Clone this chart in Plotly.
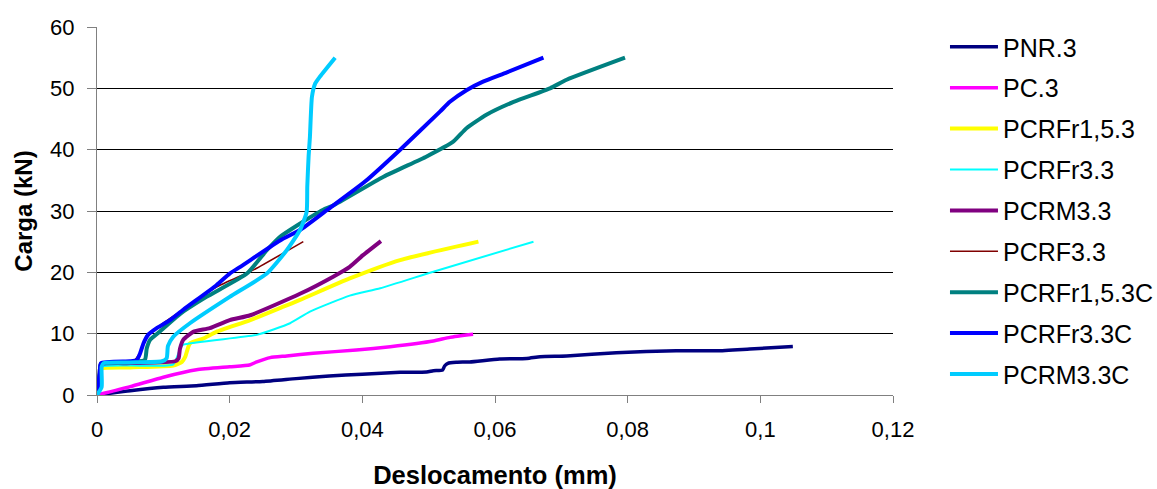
import plotly.graph_objects as go

# Load-displacement curves (displacement in mm, load in kN)
pnr3_x = [0, 0.005, 0.01, 0.015, 0.02, 0.025, 0.030, 0.035, 0.040, 0.0457, 0.0497, 0.0507, 0.0521,
          0.0524, 0.0529, 0.0542, 0.0562, 0.0607, 0.0648, 0.0668, 0.0708, 0.0783, 0.0873, 0.0934, 0.0984, 0.1049]
pnr3_y = [0, 0.7, 1.25, 1.5, 2.0, 2.2, 2.67, 3.1, 3.4, 3.7, 3.75, 3.97, 4.08,
          4.73, 5.17, 5.33, 5.4, 5.87, 5.95, 6.25, 6.36, 6.9, 7.23, 7.2, 7.5, 7.9]

pc3_x = [0, 0.005, 0.01, 0.015, 0.02, 0.023, 0.0241, 0.0261, 0.0286, 0.0326, 0.0391, 0.0442, 0.0507, 0.0532, 0.0567]
pc3_y = [0, 1.36, 2.9, 4.1, 4.6, 4.9, 5.4, 6.1, 6.36, 6.8, 7.34, 7.88, 8.8, 9.4, 9.9]

pcrfr15_x = [0, 0.0004, 0.0006, 0.005, 0.0115, 0.0128, 0.0133, 0.014, 0.016, 0.018, 0.0231, 0.0281, 0.0306, 0.0381, 0.0457, 0.0575]
pcrfr15_y = [0, 3.0, 4.3, 4.5, 4.8, 5.4, 6.2, 8.4, 9.2, 10.3, 12.2, 14.4, 15.5, 19.0, 22.0, 25.0]

pcrfr3_x = [0, 0.0004, 0.0006, 0.005, 0.0115, 0.0125, 0.013, 0.0241, 0.0291, 0.0321, 0.0381, 0.0427, 0.0507, 0.0658]
pcrfr3_y = [0, 3.2, 4.6, 4.8, 5.0, 7.5, 8.2, 9.8, 11.7, 13.6, 16.2, 17.4, 20.1, 25.0]

pcrm3_x = [0, 0.0004, 0.0006, 0.005, 0.0118, 0.0123, 0.0125, 0.013, 0.0145, 0.017, 0.02, 0.0231, 0.0306, 0.0356, 0.0381, 0.0401, 0.0428]
pcrm3_y = [0, 3.5, 5.0, 5.2, 5.5, 6.0, 7.5, 9.0, 10.3, 10.9, 12.2, 13.0, 16.5, 19.3, 20.9, 22.8, 25.1]

pcrf3_x = [0, 0.0004, 0.0006, 0.0055, 0.0068, 0.0075, 0.009, 0.0125, 0.018, 0.0236, 0.0311]
pcrf3_y = [0, 3.5, 5.2, 5.5, 7.5, 9.8, 11.0, 13.6, 17.6, 20.4, 25.0]

pcrfr15c_x = [0, 0.0004, 0.0006, 0.004, 0.0072, 0.0075, 0.008, 0.0092, 0.0125, 0.0165, 0.0226, 0.0256, 0.0276,
              0.0301, 0.0341, 0.0356, 0.0432, 0.0497, 0.0537, 0.0557, 0.0587, 0.0628, 0.0683, 0.0708, 0.0796]
pcrfr15c_y = [0, 3.5, 5.1, 5.3, 5.7, 7.6, 9.0, 10.1, 13.2, 16.0, 19.8, 23.6, 25.8,
              27.6, 30.2, 30.9, 35.6, 38.9, 41.3, 43.5, 45.7, 47.8, 50.0, 51.4, 55.0]

pcrfr3c_x = [0, 0.0004, 0.0006, 0.005, 0.006, 0.0065, 0.007, 0.0077, 0.009, 0.011, 0.013, 0.018, 0.020, 0.0216,
             0.0276, 0.0306, 0.0346, 0.0404, 0.0457, 0.0517, 0.0532, 0.0557, 0.0582, 0.0618, 0.0673]
pcrfr3c_y = [0, 3.5, 5.2, 5.5, 5.7, 6.8, 8.4, 9.8, 10.9, 12.2, 13.9, 17.9, 19.8, 20.9,
             25.2, 26.9, 30.1, 34.8, 40.0, 46.2, 47.8, 49.7, 51.1, 52.6, 55.0]

pcrm3c_x = [0, 0.0007, 0.0007, 0.001, 0.005, 0.0098, 0.0105, 0.0107, 0.0115, 0.014, 0.02, 0.0256, 0.0286,
            0.0306, 0.0316, 0.0317, 0.0319, 0.0321, 0.0324, 0.0329, 0.0336, 0.0359]
pcrm3c_y = [0, 1.3, 4.6, 5.2, 5.3, 5.5, 6.0, 8.0, 9.5, 11.7, 16.0, 19.8, 23.6,
            26.9, 29.8, 34.0, 38.9, 42.1, 48.6, 50.8, 51.9, 55.0]

series_names = ["PNR.3", "PC.3", "PCRFr1,5.3", "PCRFr3.3", "PCRM3.3", "PCRF3.3",
                "PCRFr1,5.3C", "PCRFr3.3C", "PCRM3.3C"]
series_x = [pnr3_x, pc3_x, pcrfr15_x, pcrfr3_x, pcrm3_x, pcrf3_x, pcrfr15c_x, pcrfr3c_x, pcrm3c_x]
series_y = [pnr3_y, pc3_y, pcrfr15_y, pcrfr3_y, pcrm3_y, pcrf3_y, pcrfr15c_y, pcrfr3c_y, pcrm3c_y]
colors = ["#000080", "#FF00FF", "#FFFF00", "#00FFFF", "#800080", "#800000", "#008080", "#0000FF", "#00CCFF"]
widths = [3.5, 3.5, 4, 2, 4, 1.6, 4, 4, 4]

x_ticks = [0, 0.02, 0.04, 0.06, 0.08, 0.1, 0.12]
x_ticktext = ["0", "0,02", "0,04", "0,06", "0,08", "0,1", "0,12"]
y_ticks = [0, 10, 20, 30, 40, 50, 60]

fig = go.Figure()
for i, (name, xs, ys, c, w) in enumerate(zip(series_names, series_x, series_y, colors, widths)):
    fig.add_trace(go.Scatter(
        x=xs, y=ys, mode="lines", name=name, legendgroup=f"g{i}",
        line=dict(color=c, width=w, shape="spline", smoothing=0.5),
    ))

font_family = "Liberation Sans, Arial, sans-serif"
fig.update_layout(
    width=1157, height=489,
    margin=dict(l=97, r=264, t=27, b=94, autoexpand=False),
    paper_bgcolor="white", plot_bgcolor="white",
    font=dict(family=font_family, color="black"),
    showlegend=True,
    legend=dict(
        x=1.0653, xanchor="left", y=1.008, yanchor="top",
        font=dict(size=25, family=font_family, color="black"),
        itemwidth=48, tracegroupgap=5.4,
        bgcolor="rgba(0,0,0,0)",
    ),
    xaxis=dict(
        range=[0, 0.12], tickvals=x_ticks, ticktext=x_ticktext,
        showgrid=False, zeroline=False,
        showline=True, linecolor="#808080", linewidth=1,
        ticks="outside", ticklen=7, tickcolor="#808080",
        tickfont=dict(size=22), ticklabelstandoff=8,
        title=dict(text="<b>Deslocamento (mm)</b>", font=dict(size=25.5), standoff=27),
    ),
    yaxis=dict(
        range=[0, 60], tickvals=y_ticks,
        showgrid=True, gridcolor="black", gridwidth=1, zeroline=False,
        showline=True, linecolor="#808080", linewidth=1,
        ticks="outside", ticklen=9, tickcolor="#808080",
        tickfont=dict(size=22), ticklabelstandoff=8,
        title=dict(text="<b>Carga (kN)</b>", font=dict(size=24), standoff=10),
    ),
)

# Let the legend use the full figure height instead of the plot-area height
try:
    fig.update_layout(legend_maxheight=480)
except ValueError:
    fig.update_layout(legend_tracegroupgap=2, legend_font_size=23)

fig.write_html("out.html")
